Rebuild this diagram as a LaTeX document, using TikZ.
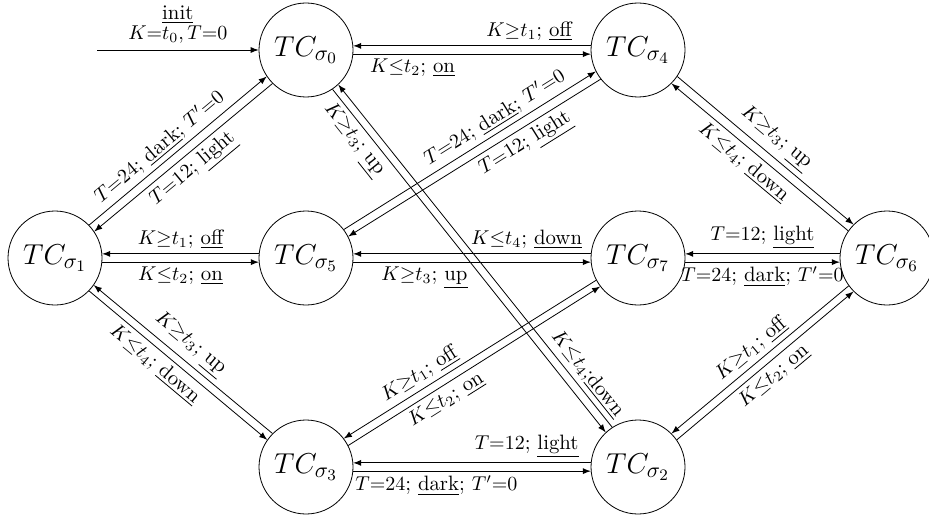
\documentclass[tikz,border=0pt]{standalone}
\usetikzlibrary{calc,arrows}

% one drawing unit = one grid step of the layout, y grows downwards
\tikzset{
  x=0.5pt, y=-0.5pt,
  state/.style={draw, circle, inner sep=0pt, minimum size=47pt,
                font=\fontsize{15.6}{18}\selectfont},
  trans/.style={-latex, line width=0.4pt},
  lbl/.style={sloped, inner sep=2.2pt, font=\fontsize{10.4}{12.5}\selectfont},
}

% a transition from #1 to #2, drawn beside the centre line
% (#3 = angular shift on the circles, positive = left of the direction),
% labelled at pos #4 on side #5 with text #6
\newcommand\tedge[6]{%
  \draw[trans] let \p1=($(#2)-(#1)$), \n1={atan2(\y1,\x1)},
                   \n2={\n1+(#3)}, \n3={\n1+180-(#3)} in
    (#1.\n2) -- node[lbl,pos=#4,#5]{#6} (#2.\n3);
}

\begin{document}
\begin{tikzpicture}
  \useasboundingbox (0,0) rectangle (929,519);

  % states
  \node[state] (s0) at (306,50)  {$TC_{\sigma_0}$};
  \node[state] (s4) at (638,50)  {$TC_{\sigma_4}$};
  \node[state] (s1) at (55,258)  {$TC_{\sigma_1}$};
  \node[state] (s5) at (306,258) {$TC_{\sigma_5}$};
  \node[state] (s7) at (638,258) {$TC_{\sigma_7}$};
  \node[state] (s6) at (887,258) {$TC_{\sigma_6}$};
  \node[state] (s3) at (306,467) {$TC_{\sigma_3}$};
  \node[state] (s2) at (638,467) {$TC_{\sigma_2}$};

  % initial transition
  \coordinate (ini) at (97,50);
  \draw[trans] (ini) -- node[above, align=center, inner sep=3pt,
                             font=\fontsize{10.4}{12.5}\selectfont]
    {\underline{init}\\[-2.5pt]$K{=}t_0,T{=}0$} (s0);

  % horizontal pairs
  \tedge{s4}{s0}{-5}{0.26}{above}{$K{\geq}t_1$; \underline{off}}
  \tedge{s0}{s4}{-5}{0.25}{below}{$K{\leq}t_2$; \underline{on}}
  \tedge{s5}{s1}{-5}{0.5}{above}{$K{\geq}t_1$; \underline{off}}
  \tedge{s1}{s5}{-5}{0.5}{below}{$K{\leq}t_2$; \underline{on}}
  \tedge{s7}{s5}{-5}{0.27}{above}{$K{\leq}t_4$; \underline{down}}
  \tedge{s5}{s7}{-5}{0.3}{below}{$K{\geq}t_3$; \underline{up}}
  \tedge{s6}{s7}{-5}{0.5}{above}{$T{=}12$; \underline{light}}
  \tedge{s7}{s6}{-5}{0.5}{below}{$T{=}24$; \underline{dark}; $T'{=}0$}
  \tedge{s2}{s3}{-5}{0.27}{above}{$T{=}12$; \underline{light}}
  \tedge{s3}{s2}{-5}{0.35}{below}{$T{=}24$; \underline{dark}; $T'{=}0$}

  % diagonal pairs
  \tedge{s1}{s0}{5}{0.45}{above}{$T{=}24$; \underline{dark}; $T'{=}0$}
  \tedge{s0}{s1}{5}{0.5}{below}{$T{=}12$; \underline{light}}
  \tedge{s3}{s1}{-5}{0.52}{above}{$K{\geq}t_3$; \underline{up}}
  \tedge{s1}{s3}{-5}{0.42}{below}{$K{\leq}t_4$; \underline{down}}
  \tedge{s4}{s6}{5}{0.5}{above}{$K{\geq}t_3$; \underline{up}}
  \tedge{s6}{s4}{5}{0.54}{below}{$K{\leq}t_4$; \underline{down}}
  \tedge{s6}{s2}{-5}{0.5}{above}{$K{\geq}t_1$; \underline{off}}
  \tedge{s2}{s6}{-5}{0.5}{below}{$K{\leq}t_2$; \underline{on}}
  \tedge{s7}{s3}{-5}{0.67}{above}{$K{\geq}t_1$; \underline{off}}
  \tedge{s3}{s7}{-5}{0.36}{below}{$K{\leq}t_2$; \underline{on}}
  \tedge{s5}{s4}{5}{0.63}{above}{$T{=}24$; \underline{dark}; $T'{=}0$}
  \tedge{s4}{s5}{5}{0.33}{below}{$T{=}12$; \underline{light}}
  \tedge{s0}{s2}{-5}{0.12}{below}{$K{\geq}t_3$; \underline{up}}
  \tedge{s2}{s0}{-5}{0.13}{above}{$K{\leq}t_4$;\underline{down}}
\end{tikzpicture}
\end{document}
